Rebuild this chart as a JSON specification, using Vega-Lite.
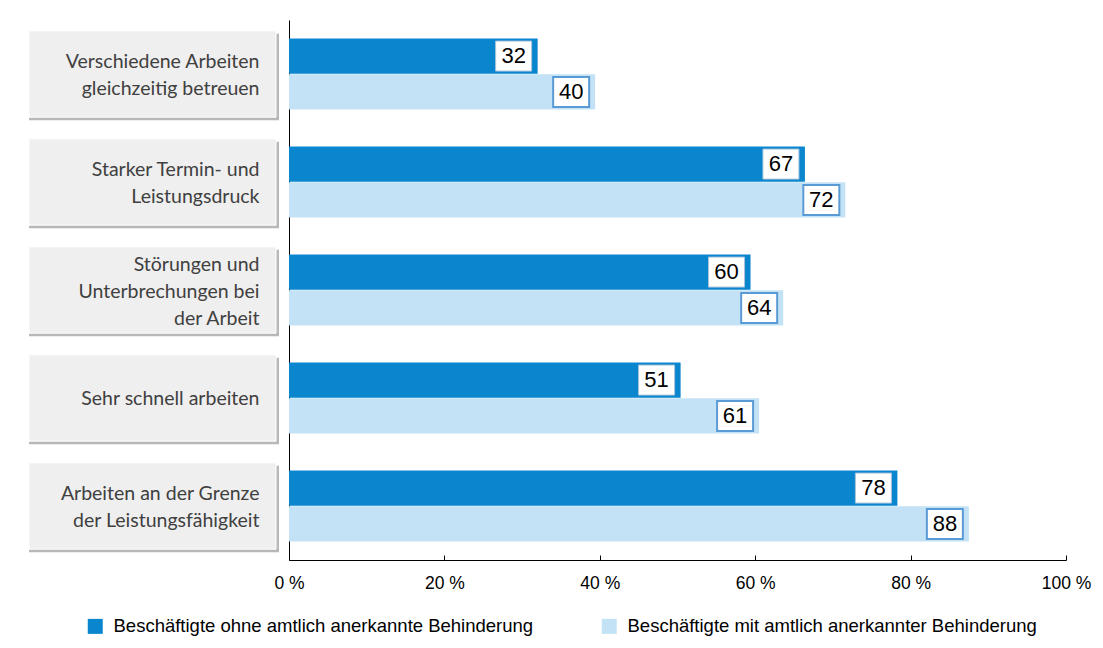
{
  "$schema": "https://vega.github.io/schema/vega-lite/v6.json",
  "padding": {"left": 28, "top": 20, "right": 5, "bottom": 5},
  "background": "white",
  "bounds": "flush",
  "config": {"view": {"stroke": null}, "font": "Liberation Sans"},
  "data": {"values": [
    {"kategorie": "Verschiedene Arbeiten|gleichzeitig betreuen", "gruppe": "Beschäftigte ohne amtlich anerkannte Behinderung", "wert": 32.0, "label": "32"},
    {"kategorie": "Verschiedene Arbeiten|gleichzeitig betreuen", "gruppe": "Beschäftigte mit amtlich anerkannter Behinderung", "wert": 39.4, "label": "40"},
    {"kategorie": "Starker Termin- und|Leistungsdruck", "gruppe": "Beschäftigte ohne amtlich anerkannte Behinderung", "wert": 66.4, "label": "67"},
    {"kategorie": "Starker Termin- und|Leistungsdruck", "gruppe": "Beschäftigte mit amtlich anerkannter Behinderung", "wert": 71.6, "label": "72"},
    {"kategorie": "Störungen und|Unterbrechungen bei|der Arbeit", "gruppe": "Beschäftigte ohne amtlich anerkannte Behinderung", "wert": 59.4, "label": "60"},
    {"kategorie": "Störungen und|Unterbrechungen bei|der Arbeit", "gruppe": "Beschäftigte mit amtlich anerkannter Behinderung", "wert": 63.6, "label": "64"},
    {"kategorie": "Sehr schnell arbeiten", "gruppe": "Beschäftigte ohne amtlich anerkannte Behinderung", "wert": 50.4, "label": "51"},
    {"kategorie": "Sehr schnell arbeiten", "gruppe": "Beschäftigte mit amtlich anerkannter Behinderung", "wert": 60.5, "label": "61"},
    {"kategorie": "Arbeiten an der Grenze|der Leistungsfähigkeit", "gruppe": "Beschäftigte ohne amtlich anerkannte Behinderung", "wert": 78.3, "label": "78"},
    {"kategorie": "Arbeiten an der Grenze|der Leistungsfähigkeit", "gruppe": "Beschäftigte mit amtlich anerkannter Behinderung", "wert": 87.5, "label": "88"}
  ]},
  "spacing": 13,
  "hconcat": [
    {
      "width": 247,
      "height": 540,
      "transform": [{"filter": "datum.gruppe == 'Beschäftigte ohne amtlich anerkannte Behinderung'"}],
      "encoding": {
        "y": {
          "field": "kategorie", "type": "nominal", "sort": null,
          "scale": {"paddingInner": 0.2, "paddingOuter": 0.1},
          "axis": {
            "orient": "right", "domain": false, "ticks": false, "title": null,
            "labelAlign": "right", "labelPadding": -17,
            "labelExpr": "split(datum.label, '|')",
            "labelOffset": {"condition": [
              {"test": "indexof(datum.value, 'Störungen') >= 0", "value": -25},
              {"test": "indexof(datum.value, '|') >= 0", "value": -12}
            ], "value": 1},
            "labelFont": "Lato", "labelFontSize": 19.5, "labelColor": "#404040",
            "labelLineHeight": 27, "labelLimit": 400, "zindex": 1
          }
        }
      },
      "layer": [
        {"mark": {"type": "bar", "color": "#9a9a9a", "opacity": 0.7, "xOffset": 3, "yOffset": 3}},
        {"mark": {"type": "bar", "color": "#efefef", "stroke": "#ffffff", "strokeWidth": 1}}
      ]
    },
    {
      "width": 777,
      "height": 540,
      "encoding": {
        "y": {
          "field": "kategorie", "type": "nominal", "sort": null,
          "scale": {"paddingInner": 0.343, "paddingOuter": 0.1715},
          "axis": {"labels": false, "ticks": false, "title": null, "domainColor": "#000000", "domainWidth": 1}
        },
        "yOffset": {"field": "gruppe", "type": "nominal", "sort": null, "scale": {"paddingInner": 0.02, "paddingOuter": 0}}
      },
      "layer": [
        {
          "mark": {"type": "bar"},
          "encoding": {
            "x": {
              "field": "wert", "type": "quantitative",
              "scale": {"domain": [0, 100], "nice": false},
              "axis": {
                "values": [0, 20, 40, 60, 80, 100], "labelExpr": "datum.value + ' %'",
                "grid": false, "domainColor": "#000000", "tickColor": "#000000", "tickSize": -5,
                "labelFont": "Liberation Sans", "labelFontSize": 17.5, "labelColor": "#000000", "labelPadding": 19, "labelFlush": false,
                "labelOverlap": false, "labelBound": false, "title": null
              }
            },
            "color": {
              "field": "gruppe", "type": "nominal", "sort": null,
              "scale": {"range": ["#0a86cf", "#c3e2f5"]},
              "legend": {
                "orient": "none", "legendX": 57, "legendY": 597, "direction": "horizontal",
                "title": null, "symbolType": "square", "symbolSize": 225, "symbolStrokeWidth": 0,
                "labelFont": "Liberation Sans", "labelFontSize": 18.5, "labelColor": "#000000", "columnPadding": 66, "labelLimit": 600, "labelOffset": 9
              }
            }
          }
        },
        {
          "mark": {"type": "point", "shape": "M-1.2,-1H1.2V1H-1.2Z", "size": 900, "filled": true, "fill": "#ffffff", "opacity": 1, "xOffset": -24},
          "encoding": {
            "x": {"field": "wert", "type": "quantitative"},
            "stroke": {"condition": {"test": "datum.gruppe === 'Beschäftigte mit amtlich anerkannter Behinderung'", "value": "#5b9bd5"}, "value": "#a9c3da"},
            "strokeWidth": {"condition": {"test": "datum.gruppe === 'Beschäftigte mit amtlich anerkannter Behinderung'", "value": 2}, "value": 1}
          }
        },
        {
          "mark": {"type": "text", "xOffset": -24, "fontSize": 22, "font": "Liberation Sans", "color": "#000000", "baseline": "middle"},
          "encoding": {
            "x": {"field": "wert", "type": "quantitative"},
            "text": {"field": "label"}
          }
        }
      ]
    }
  ]
}
